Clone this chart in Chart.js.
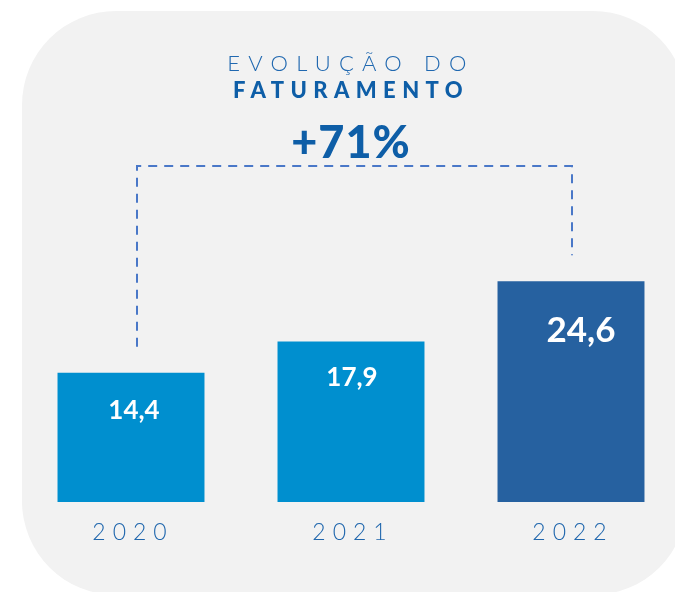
<!DOCTYPE html>
<html>
<head>
<meta charset="utf-8">
<script src="https://cdn.jsdelivr.net/npm/chart.js@4.4.1/dist/chart.umd.min.js"></script>
<style>
  html, body { margin: 0; padding: 0; background: #ffffff; overflow: hidden; width: 675px; height: 592px; }
  #bg { position: absolute; left: 22px; top: 11px; width: 665px; height: 584px; border-radius: 94px; background: #f2f2f2; }
  #wrap { position: absolute; left: 0; top: 0; width: 700px; height: 592px; }
  .t1 { position: absolute; left: 0; width: 702px; text-align: center; font-family: Lato, sans-serif; }
  #title1 { top: 49px; font-size: 22px; font-weight: 300; letter-spacing: 8.2px; color: #2068b0; }
  #title2 { top: 76px; font-size: 22px; font-weight: 900; letter-spacing: 6.4px; color: #0e5ea7; }
  #growth { top: 114px; font-size: 45px; font-weight: 900; letter-spacing: 1px; color: #0e5ea7; }
</style>
</head>
<body>
<div id="bg"></div>
<div id="wrap"><canvas id="c" width="700" height="592"></canvas></div>
<div class="t1" id="title1">EVOLUÇÃO DO</div>
<div class="t1" id="title2">FATURAMENTO</div>
<div class="t1" id="growth">+71%</div>
<script>
// ---- data ----
const categories = ["2020", "2021", "2022"];
const revenue = [14.4, 17.9, 24.6];
const valueLabels = ["14,4", "17,9", "24,6"];

// ---- styles ----
const barColors = ["#008fcf", "#008fcf", "#2661a0"];
const labelFontSizes = [26, 26, 35];
const labelOffsetsY = [38, 36, 49];
const labelOffsetsX = [3, 1, 10];

const overlay = {
  id: "overlay",
  afterDatasetsDraw(chart) {
    const ctx = chart.ctx;
    const meta = chart.getDatasetMeta(0);
    const x = chart.scales.x;
    const y = chart.scales.y;
    // dashed bracket
    const b0 = meta.data[0], b2 = meta.data[2];
    const topY = 166;
    ctx.save();
    ctx.strokeStyle = "#4a78c8";
    ctx.lineWidth = 2;
    ctx.setLineDash([9, 7]);
    ctx.beginPath();
    ctx.moveTo(b0.x + 6, b0.y - 26);
    ctx.lineTo(b0.x + 6, topY);
    ctx.lineTo(b2.x + 1, topY);
    ctx.lineTo(b2.x + 1, b2.y - 26);
    ctx.stroke();
    ctx.restore();
    // value labels
    ctx.save();
    ctx.fillStyle = "#ffffff";
    ctx.textAlign = "center";
    ctx.textBaseline = "middle";
    meta.data.forEach((bar, i) => {
      ctx.font = "bold " + labelFontSizes[i] + "px Lato, sans-serif";
      ctx.fillText(valueLabels[i], bar.x + labelOffsetsX[i], bar.y + labelOffsetsY[i]);
    });
    ctx.restore();
    // category labels
    ctx.save();
    ctx.fillStyle = "#1f66ad";
    ctx.textAlign = "center";
    ctx.textBaseline = "middle";
    ctx.font = "300 23px Lato, sans-serif";
    ctx.letterSpacing = "7px";
    categories.forEach((c, i) => {
      const px = x.getPixelForValue(i);
      ctx.fillText(c, px + 2, y.getPixelForValue(0) + 31);
    });
    ctx.restore();
  }
};

new Chart(document.getElementById("c"), {
  type: "bar",
  data: {
    labels: categories,
    datasets: [{
      data: revenue,
      backgroundColor: barColors,
      borderWidth: 0,
      categoryPercentage: 1,
      barPercentage: 0.668
    }]
  },
  options: {
    responsive: false,
    animation: false,
    layout: { padding: { left: 21, right: 19, top: 179, bottom: 90 } },
    plugins: { legend: { display: false }, tooltip: { enabled: false }, title: { display: false } },
    scales: {
      x: { display: false },
      y: { display: false, min: 0, max: 36 }
    }
  },
  plugins: [overlay]
});
</script>
</body>
</html>
